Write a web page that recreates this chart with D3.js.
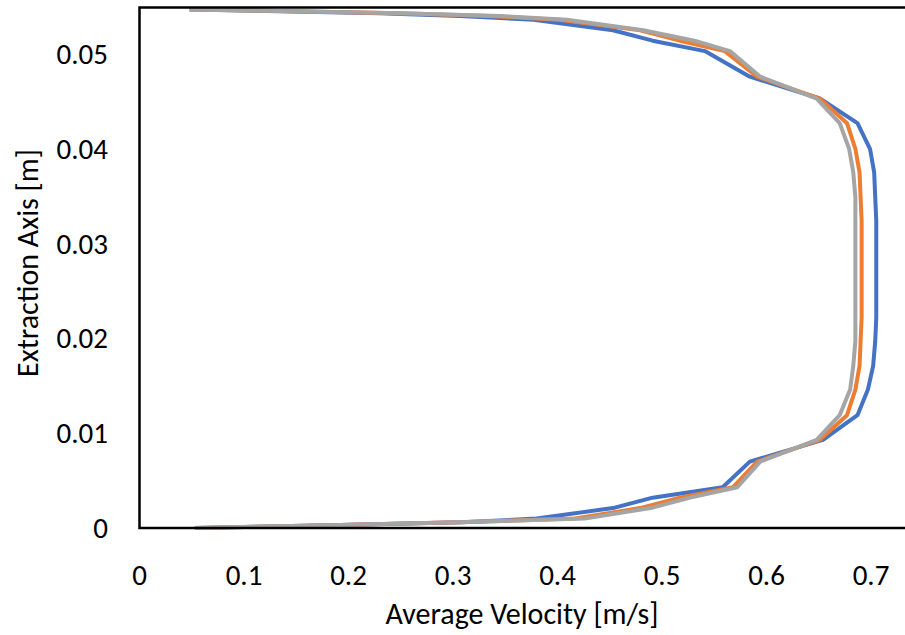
<!DOCTYPE html>
<html>
<head>
<meta charset="utf-8">
<script src="https://cdn.jsdelivr.net/npm/d3@7"></script>
<style>
  body { margin: 0; background: #fff; }
  svg text { font-family: Carlito, Calibri, Lato, sans-serif; fill: #000; }
</style>
</head>
<body>
<div id="chart"></div>
<script>
// Position along the extraction axis [m]
const yPos = [0, 0.0003, 0.0006, 0.001, 0.0021, 0.0032, 0.0043, 0.007, 0.0093, 0.0119, 0.0146,
  0.0171, 0.0197, 0.0222, 0.0247, 0.0273, 0.0299, 0.0324, 0.0349, 0.0375, 0.04,
  0.0427, 0.0453, 0.0476, 0.0503, 0.0514, 0.0525, 0.0536, 0.054, 0.0543, 0.0547];

// Average velocity [m/s] for each series
const blueVel = [0.053, 0.182, 0.309, 0.380, 0.453, 0.491, 0.558, 0.584, 0.654, 0.687, 0.697,
  0.702, 0.704, 0.705, 0.705, 0.705, 0.705, 0.705, 0.704, 0.703, 0.699,
  0.687, 0.651, 0.584, 0.541, 0.491, 0.453, 0.377, 0.307, 0.230, 0.048];
const orangeVel = [0.053, 0.182, 0.307, 0.417, 0.479, 0.517, 0.568, 0.591, 0.651, 0.677, 0.685,
  0.689, 0.690, 0.691, 0.691, 0.691, 0.691, 0.691, 0.690, 0.689, 0.685,
  0.677, 0.651, 0.591, 0.560, 0.517, 0.479, 0.402, 0.335, 0.249, 0.048];
const grayVel = [0.053, 0.182, 0.302, 0.426, 0.489, 0.527, 0.572, 0.594, 0.648, 0.670, 0.680,
  0.683, 0.685, 0.685, 0.685, 0.685, 0.685, 0.685, 0.685, 0.683, 0.679,
  0.670, 0.648, 0.594, 0.565, 0.531, 0.482, 0.409, 0.345, 0.249, 0.048];

const xTicks = [0, 0.1, 0.2, 0.3, 0.4, 0.5, 0.6, 0.7];
const yTicks = [0, 0.01, 0.02, 0.03, 0.04, 0.05];

const series = [
  { values: blueVel, color: "#4472C4" },
  { values: orangeVel, color: "#ED7D31" },
  { values: grayVel, color: "#A5A5A5" },
];

const width = 905;
const height = 635;

const svg = d3.select("#chart")
  .append("svg")
  .attr("width", width)
  .attr("height", height);

// plot area runs past the right edge of the picture
const x = d3.scaleLinear().domain([0, 0.75]).range([139.5, 923.3]);
const y = d3.scaleLinear().domain([0, 0.0549]).range([528, 7.5]);

// lines
const line = d3.line()
  .x((d) => x(d[0]))
  .y((d) => y(d[1]));

series.forEach((s) => {
  svg.append("path")
    .datum(s.values.map((v, i) => [v, yPos[i]]))
    .attr("d", line)
    .attr("fill", "none")
    .attr("stroke", s.color)
    .attr("stroke-width", 4)
    .attr("stroke-linejoin", "round");
});

// frame
svg.append("rect")
  .attr("x", x(0))
  .attr("y", y(0.0549))
  .attr("width", x(0.75) - x(0))
  .attr("height", y(0) - y(0.0549))
  .attr("fill", "none")
  .attr("stroke", "#000")
  .attr("stroke-width", 2.5);

// tick labels
svg.selectAll(".xt")
  .data(xTicks)
  .enter()
  .append("text")
  .attr("x", (d) => x(d))
  .attr("y", 585)
  .attr("text-anchor", "middle")
  .style("font-size", "29px")
  .text((d) => d);

svg.selectAll(".yt")
  .data(yTicks)
  .enter()
  .append("text")
  .attr("x", 108)
  .attr("y", (d) => y(d) + 10)
  .attr("text-anchor", "end")
  .style("font-size", "29px")
  .text((d) => d);

// axis titles
svg.append("text")
  .attr("x", 522)
  .attr("y", 624)
  .attr("text-anchor", "middle")
  .style("font-size", "30px")
  .text("Average Velocity [m/s]");

svg.append("text")
  .attr("transform", "translate(38,263) rotate(-90)")
  .attr("text-anchor", "middle")
  .style("font-size", "30px")
  .text("Extraction Axis [m]");
</script>
</body>
</html>
